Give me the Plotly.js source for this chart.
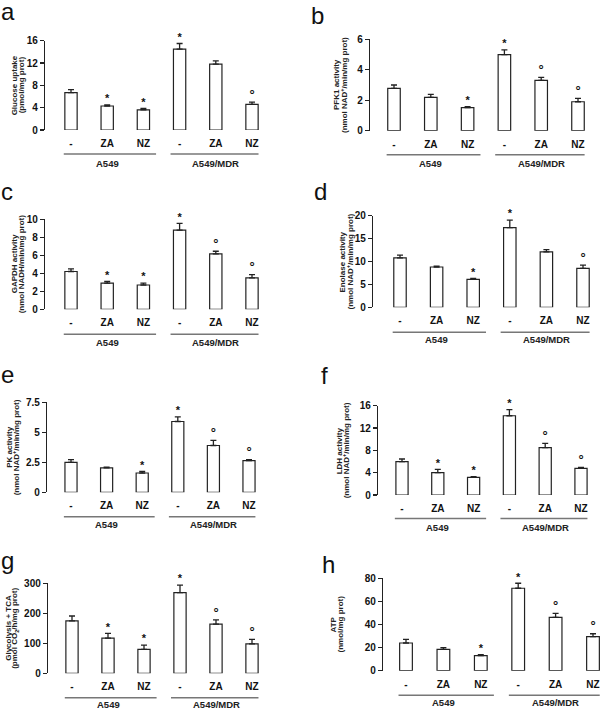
<!DOCTYPE html>
<html><head><meta charset="utf-8">
<script src="https://cdn.plot.ly/plotly-3.0.1.min.js"></script>
<style>html,body{margin:0;padding:0;background:#fff}#chart{width:600px;height:710px}</style>
</head><body><div id="chart"></div>
<script>
// ---------- data ----------
const categories = ['-', 'ZA', 'NZ', '-', 'ZA', 'NZ'];
const groupNames = ['A549', 'A549/MDR'];

const glucoseMean = [6.7, 4.3, 3.6, 14.5, 11.8, 4.6];
const glucoseErr  = [0.55, 0.2, 0.25, 1.0, 0.6, 0.4];
const glucoseSig  = ['', '*', '*', '*', '', '°'];

const pfk1Mean = [2.78, 2.19, 1.51, 5.0, 3.3, 1.9];
const pfk1Err  = [0.22, 0.2, 0.07, 0.3, 0.2, 0.22];
const pfk1Sig  = ['', '', '*', '*', '°', '°'];

const gapdhMean = [4.2, 2.9, 2.7, 8.8, 6.15, 3.5];
const gapdhErr  = [0.3, 0.2, 0.2, 0.75, 0.3, 0.35];
const gapdhSig  = ['', '*', '*', '*', '°', '°'];

const enolaseMean = [10.8, 8.8, 6.1, 17.4, 12.1, 8.5];
const enolaseErr  = [0.6, 0.2, 0.2, 1.65, 0.5, 0.7];
const enolaseSig  = ['', '', '*', '*', '', '°'];

const pkMean = [2.5, 2.03, 1.61, 5.9, 3.9, 2.64];
const pkErr  = [0.22, 0.07, 0.14, 0.38, 0.43, 0.08];
const pkSig  = ['', '', '*', '*', '°', '°'];

const ldhMean = [5.97, 4.0, 3.16, 14.2, 8.5, 4.78];
const ldhErr  = [0.48, 0.6, 0.14, 1.1, 0.75, 0.17];
const ldhSig  = ['', '*', '*', '*', '°', '°'];

const glycoMean = [175, 117, 80, 269, 164, 98];
const glycoErr  = [16, 16, 14, 25, 14, 15];
const glycoSig  = ['', '*', '*', '*', '°', '°'];

const atpMean = [24, 18.5, 13, 71.4, 46.2, 29.5];
const atpErr  = [3.2, 1.4, 0.9, 4.3, 3.5, 2.5];
const atpSig  = ['', '', '*', '*', '°', '°'];

const yTitleLine1 = ['Glucose uptake', 'PFK1 activity', 'GAPDH activity', 'Enolase activity',
                     'PK activity', 'LDH activity', 'Glycolysis + TCA', 'ATP'];
const yTitleLine2 = ['(pmol/mg prot)', '(nmol NAD<sup>+</sup>/min/mg prot)', '(nmol NADH/min/mg prot)',
                     '(nmol NAD<sup>+</sup>/min/mg prot)', '(nmol NAD<sup>+</sup>/min/mg prot)',
                     '(nmol NAD<sup>+</sup>/min/mg prot)', '(pmol CO<sub>2</sub>/h/mg prot)', '(nmol/mg prot)'];
const panelLetters = ['a','b','c','d','e','f','g','h'];
const yMax  = [16, 6, 10, 20, 7.5, 16, 300, 80];
const yStep = [4, 2, 2, 5, 2.5, 4, 100, 20];

// ---------- layout geometry (pixels) ----------
const W = 600, H = 710;
const geom = [
  {axisX:45,  bar0:71,  sp:36.2, top:40.7,  zero:130,   lx:0,   lb:20,  t1:14,  t2:21,  gl:24, gt:33},
  {axisX:370, bar0:394, sp:36.8, top:39.3,  zero:130.7, lx:310, lb:24,  t1:337, t2:344, gl:24, gt:33},
  {axisX:45,  bar0:71,  sp:36.2, top:219.3, zero:309.3, lx:0,   lb:200, t1:14,  t2:21,  gl:25, gt:33},
  {axisX:373, bar0:400, sp:36.6, top:215.7, zero:307.3, lx:313, lb:200, t1:342, t2:349, gl:25, gt:32},
  {axisX:47,  bar0:71,  sp:35.6, top:402.3, zero:492.3, lx:0,   lb:382, t1:9.5, t2:16,  gl:24.5, gt:32},
  {axisX:378, bar0:402, sp:35.8, top:405.7, zero:495,   lx:320, lb:383, t1:339, t2:346, gl:23.5, gt:32},
  {axisX:48,  bar0:72,  sp:36,   top:583.3, zero:673.3, lx:0,   lb:568, t1:8.5, t2:15.5, gl:24.5, gt:31.5},
  {axisX:383, bar0:406, sp:37.4, top:578.3, zero:670.7, lx:321, lb:572, t1:333, t2:340, gl:24.5, gt:32}
];

const means = [glucoseMean, pfk1Mean, gapdhMean, enolaseMean, pkMean, ldhMean, glycoMean, atpMean];
const errs  = [glucoseErr, pfk1Err, gapdhErr, enolaseErr, pkErr, ldhErr, glycoErr, atpErr];
const sigs  = [glucoseSig, pfk1Sig, gapdhSig, enolaseSig, pkSig, ldhSig, glycoSig, atpSig];

const FONT = 'Liberation Sans, Arial, sans-serif';
const xs = categories.map((c, i) => i);

const data = [];
const layout = {
  width: W, height: H,
  margin: {l:0, r:0, t:0, b:0},
  paper_bgcolor: '#fff', plot_bgcolor: 'rgba(0,0,0,0)',
  showlegend: false,
  font: {family: FONT, color: '#111'},
  shapes: [], annotations: []
};

for (let p = 0; p < 8; p++) {
  const g = geom[p];
  const n = p + 1;
  const xa = 'x' + n, ya = 'y' + n;
  const xmin = -(g.bar0 - g.axisX) / g.sp;
  const xmax = Math.min(5.5, (W - g.bar0) / g.sp);
  const right = g.bar0 + xmax * g.sp;

  data.push({
    type: 'bar', x: xs, y: means[p], xaxis: xa, yaxis: ya, width: 0.34,
    marker: {color: '#fff', line: {color: '#222', width: 1.2}},
    error_y: {type: 'data', symmetric: false, array: errs[p], arrayminus: errs[p].map(() => 0),
              color: '#222', thickness: 1.3, width: 3},
    hoverinfo: 'skip'
  });
  [['*', 11], ['°', 13]].forEach(([sym, size]) => {
    const idx = xs.filter(i => sigs[p][i] === sym);
    if (!idx.length) return;
    data.push({
      type: 'scatter', mode: 'text', x: idx, y: idx.map(i => means[p][i] + errs[p][i]),
      text: idx.map(i => sigs[p][i]), textposition: 'top center', cliponaxis: false,
      textfont: {family: FONT, size: size, color: '#111', weight: 'bold'},
      xaxis: xa, yaxis: ya, hoverinfo: 'skip'
    });
  });

  layout['xaxis' + n] = {
    domain: [g.axisX / W, right / W], range: [xmin, xmax], anchor: ya,
    showline: false, showgrid: false, zeroline: false, ticks: '',
    tickvals: xs, ticktext: categories, ticklabelstandoff: 6,
    tickfont: {family: FONT, size: 10, weight: 'bold', color: '#111'}, fixedrange: true
  };
  layout['yaxis' + n] = {
    domain: [1 - g.zero / H, 1 - g.top / H], range: [0, yMax[p]], anchor: xa,
    showline: true, linecolor: '#222', linewidth: 1.2, showgrid: false, zeroline: false,
    ticks: 'outside', ticklen: 4, tickwidth: 1.2, tickcolor: '#222', dtick: yStep[p], tick0: 0,
    tickfont: {family: FONT, size: 10, weight: 'bold', color: '#111'},
    fixedrange: true
  };

  // y-axis title (two tightly spaced rotated lines)
  const midY = 1 - ((g.top + g.zero) / 2) / H;
  [[yTitleLine1[p], g.t1], [yTitleLine2[p], g.t2]].forEach(([txt, px]) => {
    layout.annotations.push({xref: 'paper', yref: 'paper', x: px / W, y: midY, text: txt, textangle: -90,
                             showarrow: false, xanchor: 'center', yanchor: 'middle', borderpad: 0,
                             font: {family: FONT, size: 8, weight: 'bold', color: '#222'}});
  });

  // group underlines & labels
  const lineY = 1 - (g.zero + g.gl) / H;
  const labY = 1 - (g.zero + g.gt) / H;
  [[-0.2, 2.35, 1], [2.75, 5.18, 4]].forEach((seg, k) => {
    layout.shapes.push({type: 'line', xref: xa, yref: 'paper', x0: seg[0], x1: seg[1], y0: lineY, y1: lineY,
                        line: {color: '#777', width: 1.5}});
    layout.annotations.push({xref: xa, yref: 'paper', x: seg[2], y: labY, text: groupNames[k], showarrow: false,
                             xanchor: 'center', yanchor: 'middle', borderpad: 0,
                             font: {family: FONT, size: 9.5, weight: 'bold', color: '#222'}});
  });
  layout.annotations.push({xref: 'paper', yref: 'paper', x: g.lx / W, y: 1 - (g.lb - 8) / H,
                           text: panelLetters[p], showarrow: false, xanchor: 'left', yanchor: 'middle',
                           borderpad: 0, font: {family: FONT, size: 24, color: '#111'}});
}

Plotly.newPlot('chart', data, layout, {staticPlot: true});
</script></body></html>
